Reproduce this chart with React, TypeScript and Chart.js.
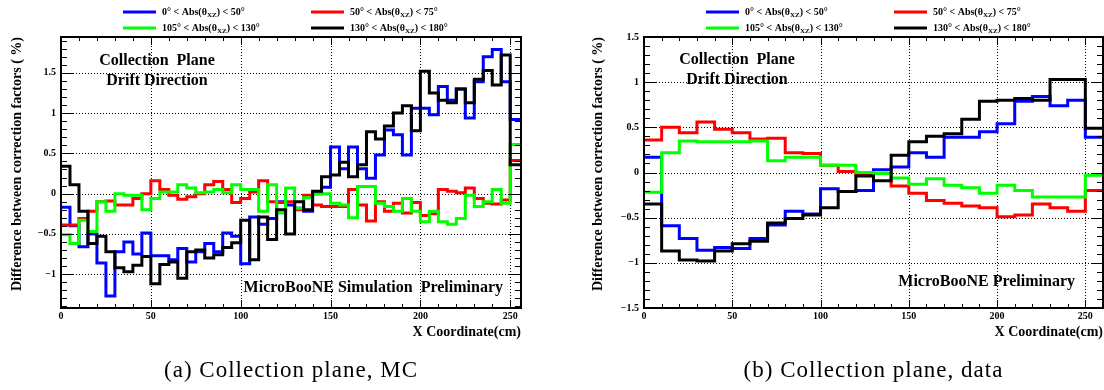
import React, { useEffect, useRef } from "react";
import { Chart, registerables } from "chart.js";

Chart.register(...registerables);

const SERIF = '"Liberation Serif", "Times New Roman", Times, serif';

// ---------- Panel (a): Collection plane, MC (5 cm bins) ----------
const mcBinEdges = [
  0, 5, 10, 15, 20, 25, 30, 35, 40, 45, 50, 55, 60, 65, 70, 75, 80, 85, 90, 95,
  100, 105, 110, 115, 120, 125, 130, 135, 140, 145, 150, 155, 160, 165, 170, 175,
  180, 185, 190, 195, 200, 205, 210, 215, 220, 225, 230, 235, 240, 245, 250, 256,
];
const mcBlue = [
  -0.17, -0.4, -0.66, -0.5, -0.86, -1.27, -0.72, -0.6, -0.75, -0.49,
  -0.77, -0.77, -0.82, -0.68, -0.85, -0.72, -0.62, -0.72, -0.49, -0.53,
  -0.87, -0.29, -0.38, -0.31, -0.1, -0.14, -0.18, -0.22, 0.0, 0.08,
  0.58, 0.31, 0.58, 0.31, 0.19, 0.48, 0.79, 0.73, 0.48, 1.06,
  1.06, 0.98, 1.33, 1.16, 1.3, 0.94, 1.39, 1.7, 1.79, 1.39,
  0.92,
];
const mcRed = [
  -0.39, -0.39, -0.31, -0.22, -0.1, -0.09, -0.14, -0.14, -0.06, 0.0,
  0.16, 0.05, -0.02, -0.07, -0.04, 0.0, 0.11, 0.15, 0.05, -0.11,
  -0.06, 0.02, 0.16, -0.1, -0.11, -0.1, -0.2, -0.02, -0.14, -0.16,
  -0.16, -0.16, 0.05, -0.14, -0.34, -0.1, -0.22, -0.12, -0.24, -0.11,
  -0.27, -0.25, 0.05, 0.03, 0.01, 0.07, -0.06, -0.12, -0.13, -0.08,
  0.41,
];
const mcGreen = [
  -0.51, -0.62, -0.33, -0.47, -0.1, -0.22, 0.0, -0.02, -0.02, -0.2,
  -0.06, 0.02, 0.02, 0.11, 0.07, 0.01, 0.02, 0.05, 0.01, 0.11,
  0.05, 0.05, -0.22, 0.11, -0.24, 0.07, -0.18, -0.05, 0.0, 0.0,
  -0.12, -0.14, -0.3, 0.09, 0.09, -0.12, -0.16, -0.22, -0.06, -0.22,
  -0.35, -0.22, -0.35, -0.38, -0.31, -0.02, -0.16, -0.1, 0.05, -0.12,
  0.61,
];
const mcBlack = [
  0.34, 0.11, -0.22, -0.62, -0.53, -0.72, -0.92, -0.97, -0.89, -0.78,
  -1.12, -0.88, -0.85, -1.05, -0.72, -0.7, -0.8, -0.76, -0.67, -0.61,
  -0.33, -0.82, -0.29, -0.57, -0.2, -0.5, -0.1, -0.2, 0.03, 0.21,
  0.23, 0.39, 0.21, 0.36, 0.77, 0.68, 0.84, 1.0, 1.09, 0.78,
  1.52, 1.25, 1.16, 1.13, 1.3, 1.13, 1.42, 1.53, 1.35, 1.72,
  0.36,
];

// ---------- Panel (b): Collection plane, data (10 cm bins) ----------
const dataBinEdges = [
  0, 10, 20, 30, 40, 50, 60, 70, 80, 90, 100, 110, 120, 130, 140, 150, 160, 170,
  180, 190, 200, 210, 220, 230, 240, 250, 260,
];
const dataBlue = [
  0.17, -0.59, -0.73, -0.86, -0.83, -0.84, -0.73, -0.58, -0.43, -0.46,
  -0.18, -0.21, -0.2, 0.03, 0.06, 0.22, 0.17, 0.39, 0.39, 0.45,
  0.54, 0.79, 0.84, 0.74, 0.8, 0.39,
];
const dataRed = [
  0.36, 0.5, 0.44, 0.56, 0.48, 0.44, 0.37, 0.38, 0.22, 0.21,
  0.08, 0.01, -0.01, -0.01, -0.15, -0.23, -0.31, -0.34, -0.37, -0.39,
  -0.49, -0.47, -0.35, -0.39, -0.43, -0.2,
];
const dataGreen = [
  -0.22, 0.22, 0.35, 0.34, 0.34, 0.34, 0.35, 0.13, 0.17, 0.17,
  0.08, 0.08, 0.0, -0.01, -0.06, -0.13, -0.07, -0.14, -0.17, -0.23,
  -0.14, -0.2, -0.27, -0.27, -0.27, -0.03,
];
const dataBlack = [
  -0.35, -0.87, -0.97, -0.98, -0.87, -0.79, -0.76, -0.56, -0.51, -0.47,
  -0.39, -0.21, -0.04, -0.09, 0.19, 0.34, 0.4, 0.43, 0.59, 0.79,
  0.8, 0.82, 0.8, 1.03, 1.03, 0.49,
];

// ---------- Shared labels ----------
const seriesNames = [
  "0° < Abs(θ_{XZ}) < 50°",
  "50° < Abs(θ_{XZ}) < 75°",
  "105° < Abs(θ_{XZ}) < 130°",
  "130° < Abs(θ_{XZ}) < 180°",
];
const seriesColors = ["#0000ff", "#ff0000", "#00ff00", "#000000"];
const xTickValues = [0, 50, 100, 150, 200, 250];
const mcYTickValues = [-1, -0.5, 0, 0.5, 1, 1.5];
const mcYTickLabels = ["\u22121", "\u22120.5", "0", "0.5", "1", "1.5"];
const dataYTickValues = [-1.5, -1, -0.5, 0, 0.5, 1, 1.5];
const dataYTickLabels = ["\u22121.5", "\u22121", "\u22120.5", "0", "0.5", "1", "1.5"];
const xTitle = "X Coordinate(cm)";
const yTitle = "Difference between correction factors ( %)";

type Note = { text: string; x: number; y: number; align: CanvasTextAlign; from: "left" | "right" };

type PanelCfg = {
  edges: number[];
  series: number[][];
  xMax: number;
  yMin: number;
  yMax: number;
  yTicks: number[];
  yLabels: string[];
  caption: string;
  notes: Note[];
  padLeft: number;
  padRight: number;
  yAxisWidth: number;
};

const panels: PanelCfg[] = [
  {
    edges: mcBinEdges,
    series: [mcBlue, mcRed, mcGreen, mcBlack],
    xMax: 256,
    yMin: -1.42,
    yMax: 1.945,
    yTicks: mcYTickValues,
    yLabels: mcYTickLabels,
    caption: "(a) Collection plane, MC",
    notes: [
      { text: "Collection  Plane", x: 96, y: 61, align: "center", from: "left" },
      { text: "Drift Direction", x: 96, y: 81, align: "center", from: "left" },
      { text: "MicroBooNE Simulation  Preliminary", x: -18, y: 288, align: "right", from: "right" },
    ],
    padLeft: 0,
    padRight: 31,
    yAxisWidth: 61,
  },
  {
    edges: dataBinEdges,
    series: [dataBlue, dataRed, dataGreen, dataBlack],
    xMax: 260,
    yMin: -1.5,
    yMax: 1.5,
    yTicks: dataYTickValues,
    yLabels: dataYTickLabels,
    caption: "(b) Collection plane, data",
    notes: [
      { text: "Collection  Plane", x: 93, y: 60, align: "center", from: "left" },
      { text: "Drift Direction", x: 93, y: 80, align: "center", from: "left" },
      { text: "MicroBooNE Preliminary", x: -28, y: 282, align: "right", from: "right" },
    ],
    padLeft: 29,
    padRight: 1,
    yAxisWidth: 63,
  },
];

function histPoints(edges: number[], vals: number[]) {
  const pts: { x: number; y: number }[] = [];
  vals.forEach((v, i) => {
    pts.push({ x: edges[i], y: v });
    pts.push({ x: edges[i + 1], y: v });
  });
  return pts;
}

function drawRich(ctx: CanvasRenderingContext2D, x: number, y: number, s: string) {
  const parts = s.split(/(_\{[^}]*\})/).filter((p) => p.length > 0);
  let cx = x;
  for (const p of parts) {
    const sub = p.startsWith("_{");
    const t = sub ? p.slice(2, -1) : p;
    ctx.font = sub ? `bold 7px ${SERIF}` : `bold 10px ${SERIF}`;
    ctx.fillText(t, cx, sub ? y + 3 : y);
    cx += ctx.measureText(t).width;
  }
}

function makeDecor(p: PanelCfg) {
  return {
    id: "rootDecor",
    beforeDatasetsDraw(chart: any) {
      const { ctx, chartArea: a, scales } = chart;
      const xs = scales.x;
      const ys = scales.y;
      ctx.save();
      ctx.strokeStyle = "#000";
      ctx.lineWidth = 1;
      ctx.setLineDash([1, 2]);
      ctx.beginPath();
      xTickValues.forEach((v) => {
        const px = Math.round(xs.getPixelForValue(v)) + 0.5;
        if (px <= a.left + 2 || px >= a.right - 2) return;
        ctx.moveTo(px, a.top);
        ctx.lineTo(px, a.bottom);
      });
      p.yTicks.forEach((v) => {
        const py = Math.round(ys.getPixelForValue(v)) + 0.5;
        if (py <= a.top + 2 || py >= a.bottom - 2) return;
        ctx.moveTo(a.left, py);
        ctx.lineTo(a.right, py);
      });
      ctx.stroke();
      ctx.restore();
    },
    afterDatasetsDraw(chart: any) {
      const { ctx, chartArea: a, scales } = chart;
      const xs = scales.x;
      const ys = scales.y;
      ctx.save();
      // inner tick marks (ROOT style, all four sides)
      ctx.strokeStyle = "#000";
      ctx.lineWidth = 1;
      ctx.beginPath();
      for (let k = 0; k * 10 <= p.xMax + 1e-9; k++) {
        const v = k * 10;
        const px = Math.round(xs.getPixelForValue(v)) + 0.5;
        const len = k % 5 === 0 ? 8 : 4;
        ctx.moveTo(px, a.bottom);
        ctx.lineTo(px, a.bottom - len);
        ctx.moveTo(px, a.top);
        ctx.lineTo(px, a.top + len);
      }
      const k0 = Math.ceil(p.yMin * 10 - 1e-9);
      const k1 = Math.floor(p.yMax * 10 + 1e-9);
      for (let k = k0; k <= k1; k++) {
        const py = Math.round(ys.getPixelForValue(k / 10)) + 0.5;
        const len = k % 5 === 0 ? 12 : 6;
        ctx.moveTo(a.left, py);
        ctx.lineTo(a.left + len, py);
        ctx.moveTo(a.right, py);
        ctx.lineTo(a.right - len, py);
      }
      ctx.stroke();
      // frame
      ctx.lineWidth = 2;
      ctx.strokeRect(a.left, a.top, a.right - a.left, a.bottom - a.top);
      ctx.restore();
    },
    afterDraw(chart: any) {
      const { ctx, chartArea: a } = chart;
      ctx.save();
      ctx.fillStyle = "#000";
      ctx.textBaseline = "middle";
      // legend
      const colX = [62, 250];
      const rowY = [12, 28];
      seriesNames.forEach((name, i) => {
        const x0 = a.left + colX[i % 2];
        const yc = rowY[Math.floor(i / 2)];
        ctx.strokeStyle = seriesColors[i];
        ctx.lineWidth = 3;
        ctx.beginPath();
        ctx.moveTo(x0, yc);
        ctx.lineTo(x0 + 33, yc);
        ctx.stroke();
        ctx.textAlign = "left";
        drawRich(ctx, x0 + 39, yc, name);
      });
      // annotations
      ctx.font = `bold 16px ${SERIF}`;
      p.notes.forEach((n) => {
        ctx.textAlign = n.align;
        const x = n.from === "left" ? a.left + n.x : a.right + n.x;
        ctx.fillText(n.text, x, n.y);
      });
      // sub-figure caption
      ctx.font = `23px ${SERIF}`;
      try {
        (ctx as any).letterSpacing = "1px";
      } catch (e) {
        /* ignore */
      }
      ctx.textAlign = "center";
      ctx.fillText(p.caption, (a.left + a.right) / 2, 371);
      ctx.restore();
    },
  };
}

function HistPanel({ p, left }: { p: PanelCfg; left: number }) {
  const ref = useRef<HTMLCanvasElement>(null);
  useEffect(() => {
    if (!ref.current) return;
    const order = [3, 2, 1, 0];
    const chart = new Chart(ref.current, {
      type: "line",
      data: {
        datasets: p.series.map((vals, i) => ({
          label: seriesNames[i].replace(/_\{([^}]*)\}/, "$1"),
          data: histPoints(p.edges, vals),
          borderColor: seriesColors[i],
          backgroundColor: seriesColors[i],
          borderWidth: 3,
          pointRadius: 0,
          fill: false,
          tension: 0,
          borderJoinStyle: "miter" as const,
          borderCapStyle: "butt" as const,
          order: order[i],
        })),
      },
      options: {
        animation: false,
        responsive: false,
        devicePixelRatio: 1,
        events: [],
        parsing: false as any,
        layout: { padding: { left: p.padLeft, right: p.padRight, top: 37, bottom: 48 } },
        plugins: {
          legend: { display: false },
          tooltip: { enabled: false },
          title: { display: false },
        },
        scales: {
          x: {
            type: "linear",
            min: 0,
            max: p.xMax,
            afterBuildTicks: (s: any) => {
              s.ticks = xTickValues.map((v) => ({ value: v }));
            },
            afterFit: (s: any) => {
              s.height = 34;
            },
            ticks: {
              autoSkip: false,
              maxRotation: 0,
              includeBounds: false,
              padding: 2,
              color: "#000",
              font: { family: SERIF, size: 10, weight: "bold" },
              callback: (v: any) => String(v),
            },
            grid: { display: false, drawTicks: false },
            border: { display: false },
            title: {
              display: true,
              text: xTitle,
              align: "end",
              color: "#000",
              font: { family: SERIF, size: 14, weight: "bold" },
              padding: { top: 0, bottom: 1.5 },
            },
          },
          y: {
            type: "linear",
            min: p.yMin,
            max: p.yMax,
            afterBuildTicks: (s: any) => {
              s.ticks = p.yTicks.map((v) => ({ value: v }));
            },
            afterFit: (s: any) => {
              s.width = p.yAxisWidth;
            },
            ticks: {
              autoSkip: false,
              includeBounds: false,
              padding: 5,
              color: "#000",
              font: { family: SERIF, size: 10, weight: "bold" },
              callback: (v: any) => {
                const idx = p.yTicks.findIndex((t) => Math.abs(t - v) < 1e-9);
                return idx >= 0 ? p.yLabels[idx] : "";
              },
            },
            grid: { display: false, drawTicks: false },
            border: { display: false },
            title: {
              display: true,
              text: yTitle,
              align: "end",
              color: "#000",
              font: { family: SERIF, size: 14, weight: "bold" },
              padding: { top: 8.6, bottom: 0 },
            },
          },
        },
      },
      plugins: [makeDecor(p)],
    } as any);
    return () => chart.destroy();
  }, [p]);
  return (
    <canvas
      ref={ref}
      width={552}
      height={390}
      style={{ position: "absolute", left, top: 0, width: 552, height: 390 }}
    />
  );
}

export default function App() {
  return (
    <div
      style={{
        position: "absolute",
        left: 0,
        top: 0,
        width: 1104,
        height: 390,
        background: "#fff",
        overflow: "hidden",
      }}
    >
      <HistPanel p={panels[0]} left={0} />
      <HistPanel p={panels[1]} left={552} />
    </div>
  );
}
